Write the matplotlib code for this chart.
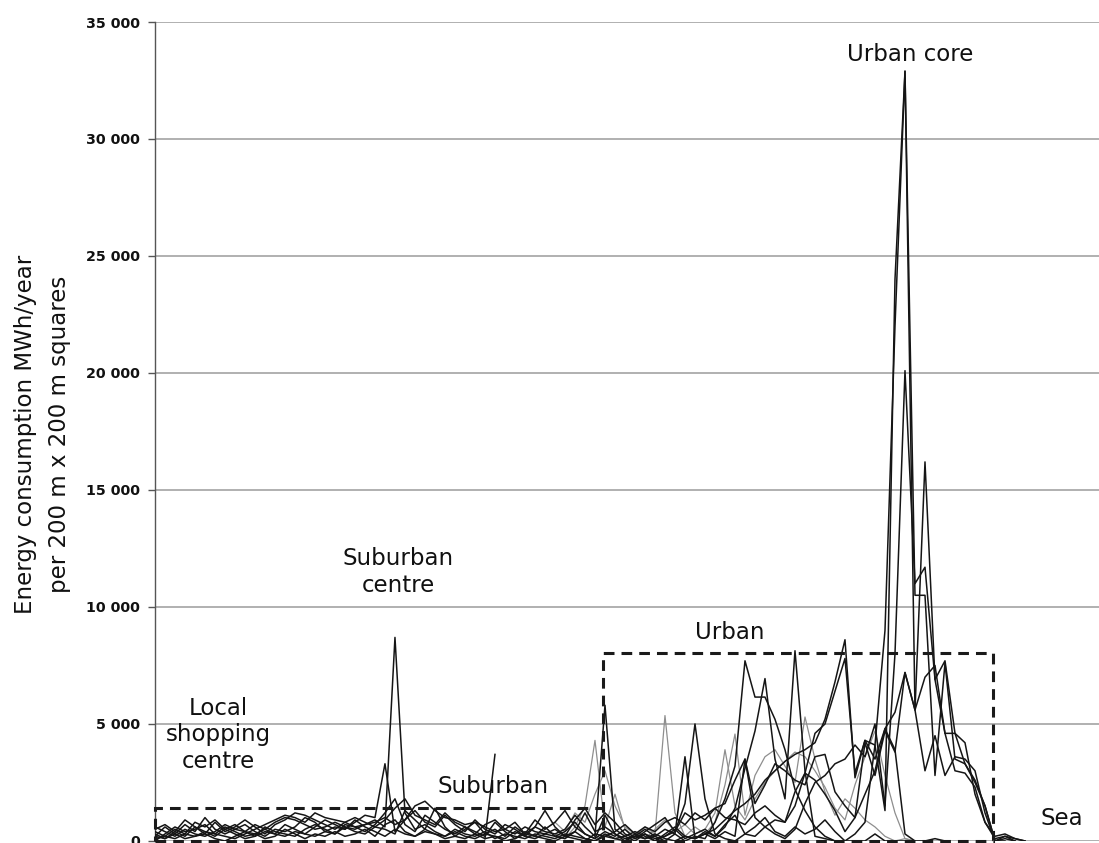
import numpy as np
import matplotlib
matplotlib.use('Agg')
import matplotlib.pyplot as plt
from matplotlib.patches import Rectangle
from matplotlib.ticker import FuncFormatter

NA = np.nan

# number of 200 m squares along the transect
n_squares = 90

# energy consumption per square (MWh/year), one list per transect line
s1 = [0, 300, 600, 400, 500, 700, 300, 600, 400, 200,
      300, 500, 800, 1000, 900, 700, 500, 600, 800, 600,
      500, 700, 900, 600, 8700, 1200, 500, 700, 400, 200,
      500, 300, 200, 400, 100, 300, 200, 100, 300, 200,
      100, 300, 200, 100, 0, 300, 100, 0, 200, 100,
      300, 100, 0, 200, 100, 300, 500, 900, 1300, 1600,
      2000, 2600, 3000, 3400, 3700, 3900, 4200, 5200, 6800, 8600,
      2700, 4300, 4100, 1300, 24000, 32900, 10500, 10500, 2800, 7600,
      3500, 3300, 2600, 1500, 0, 200, 100, 0]

s2 = [400, 200, 500, 300, 800, 600, 900, 500, 700, 400,
      200, 400, 300, 700, 500, 300, 600, 900, 700, 500,
      800, 1100, 1000, 3300, 400, 900, 1300, 800, 600, 1100,
      700, 400, 900, 500, 300, 700, 500, 200, 600, 400,
      300, 500, 1100, 600, 200, 5800, 500, 200, 400, 200,
      0, 300, 600, 200, 100, 400, 200, 700, 1100, 300,
      600, 1000, 400, 200, 600, 300, 500, 900, 400, 0,
      300, 800, 4100, 9000, 22000, 32900, 5600, 3000, 4500, 2800,
      3600, 3500, 3000, 1200, 0, 100, 0]

s3 = [200, 600, 300, 700, 400, 1000, 500, 300, 500, 700,
      400, 200, 500, 400, 600, 1000, 800, 400, 300, 700,
      600, 400, 700, 1200, 1800, 700, 400, 1100, 800, 500,
      300, 600, 400, 200, 800, 400, 100, 400, 200, 600,
      200, 100, 400, 1200, 400, 600, 300, 100, 200, 500,
      200, 0, 300, 3600, 100, 300, 100, 400, 200, 3500,
      1000, 600, 300, 100, 500, 1600, 2500, 2800, 3300, 3500,
      4100, 3600, 5000, 1500, 8000, 20100, 11000, 11700, 6900, 4600,
      4600, 3300, 2500, 1500, 0, 0]

s4 = [100, 200, 100, 300, 200, 400, 300, 200, 100, 300,
      500, 700, 900, 1100, 1000, 800, 1200, 1000, 900, 800,
      600, 700, 800, 1000, 700, 900, 1500, 1700, 1300, 1000,
      900, 700, 800, 600, 400, 500, 300, 600, 400, 300,
      500, 200, 100, 0, 300, 200, 400, 700, 300, 600,
      400, 800, 1000, 700, 1200, 900, 1400, 1000, 900, 700,
      1200, 1500, 1100, 800, 2100, 2900, 2600, 2000, 1300, 400,
      1000, 2000, 3000, 4800, 5500, 7200, 5600, 16200, 6900, 7700,
      4600, 4200, 2000, 800, 100, 200, 0]

s5 = [300, 100, 400, 200, 600, 400, 200, 500, 300, 100,
      200, 600, 400, 300, 200, 500, 700, 500, 300, 600,
      400, 300, 600, 500, 300, 1300, 900, 500, 1400, 600,
      200, 500, 800, 300, 500, 200, 600, 300, 900, 500,
      800, 1300, 600, 300, 100, 1100, 300, 0, 300, 100,
      200, 500, 300, 0, 200, 100, 800, 1800, 3200, 7700,
      6150, 6150, 5200, 3900, 2200, 1300, 600, 200, 0, 0]

s6 = [600, 400, 200, 500, 300, 200, 400, 700, 500, 400,
      700, 500, 300, 200, 400, 300, 200, 400, 600, 500,
      900, 600, 400, 200, 500, 300, 200, 400, 300, 200,
      400, 200, 100, 300, 200, 100, 400, 200, 100, 300,
      200, 400, 800, 300, 100, 400, 200, 500, 100, 300,
      100, 200, 500, 100, 300, 500, 200, 600, 1400, 3100,
      4700, 6940, 3500, 1800, 8130, 3000, 200, 100, 0, 0,
      0, 0, 300, 0, 0, 0]

s7 = [200, 100, 300, 100, 200, 300, 100, 0, 200, 400,
      300, 100, 200, 500, 300, 100, 300, 200, 400, 200,
      300, 500, 200, 700, 900, 400, 200, 500, 300, 100,
      200, 100, 300, 100, 200, 0, 100, 300, 200, 100,
      0, 200, 400, 100, 0, 200, 100, 200, 0, 300,
      0, 200, 400, 1600, 5000, 1800, 300, 100, 0, 300,
      200, 600, 900, 800, 1500, 2900, 4600, 5000, 6400, 7800,
      2900, 4300, 3500, 4800, 3900, 300, 0, 0, 100, 0]

s8 = [500, 700, 400, 900, 600, 300, 800, 400, 600, 900,
      600, 300, 700, 900, 1200, 1100, 900, 700, 500, 800,
      1000, 800, 600, 900, 1400, 1800, 1100, 900, 700, 1200,
      800, 600, 300, 700, 900, 500, 800, 300, 600, 1300,
      600, 200, 900, 1400, 700, 1200, 800, 300, 100, 400,
      700, 1000, 400, 1200, 900, 1100, 1400, 1600, 2600, 3500,
      1600, 2400, 3300, 3000, 2600, 2400, 3600, 3700, 2100, 1500,
      1000, 4200, 2800, 4700, 3800, 7200, 5600, 7000, 7500, 4600,
      3000, 2900, 2300, 800, 200, 300, 100, 0]

s9 = [NA] * 40 + [300, 100, 600, 1500, 4300, 600, 2000, 500, 200, 600,
                  300, 5360, 1200, 200, 600, 300, 800, 2400, 4570, 1100,
                  2800, 3600, 3900, 3200, 2500, 5300, 3500, 2100, 1100, 1800,
                  1400, 900, 600, 200, 0, 100, 0, 0]

s10 = [NA] * 38 + [200, 500,
                   800, 400, 1200, 800, 2000, 3000, 1500, 600, 300, 100,
                   500, 900, 400, 700, 300, 500, 1200, 3900, 1500, 900,
                   1800, 2500, 3000, 3400, 3800, 3600, 3000, 2300, 1400, 900,
                   2400, 3600, 4700, 2800, 1200, 100, 0]

s11 = [NA] * 33 + [100, 3700]

black_series = [s1, s2, s3, s4, s5, s6, s7, s8, s11]
grey_series = [s9, s10]

# dashed zones: (label, first square, last square, upper bound)
zones = [('Suburban', 0, 44.8, 1400),
         ('Urban', 44.8, 83.8, 8030)]

# text labels: (text, square, value, line spacing)
labels = [('Urban core', 75.5, 33630, 1.0),
          ('Suburban\ncentre', 24.3, 11500, 1.25),
          ('Urban', 57.5, 8930, 1.0),
          ('Local\nshopping\ncentre', 6.3, 4530, 1.2),
          ('Suburban', 33.8, 2310, 1.0),
          ('Sea', 90.7, 940, 1.0)]


def pad(values):
    values = list(values)
    return np.array(values + [NA] * (n_squares - len(values)), dtype=float)


fig = plt.figure(figsize=(10.99, 8.43), dpi=100)
ax = fig.add_axes([0.1410, 0.0024, 0.8590, 0.9715])

x = np.arange(n_squares)
for s in grey_series:
    ax.plot(x, pad(s), color='#8e8e8e', lw=0.9, zorder=2)
for s in black_series:
    ax.plot(x, pad(s), color='#151515', lw=1.1, zorder=3)

for name, x0, x1, top in zones:
    ax.add_patch(Rectangle((x0, 0), x1 - x0, top, fill=False, ec='#1a1a1a',
                           lw=2.2, ls=(0, (3.5, 2.3)), clip_on=False, zorder=5))

for txt, xv, yv, ls in labels:
    ax.text(xv, yv, txt, ha='center', va='center', fontsize=16.5,
            linespacing=ls, color='#111111', zorder=6)

ax.set_xlim(0, 94.4)
ax.set_ylim(0, 35000)
ax.set_xticks([])
ax.set_yticks(range(0, 35001, 5000))
ax.yaxis.set_major_formatter(FuncFormatter(lambda v, p: '{:,}'.format(int(v)).replace(',', ' ')))
for lab in ax.get_yticklabels():
    lab.set_fontweight('bold')
ax.tick_params(axis='y', length=5, width=1, color='#555555', pad=6,
               labelsize=10.3, labelcolor='#111111')

ax.yaxis.grid(True, color='#a3a3a3', lw=1.2)
ax.set_axisbelow(True)
for side in ['top', 'right', 'bottom']:
    ax.spines[side].set_visible(False)
ax.spines['left'].set_color('#555555')
ax.spines['left'].set_linewidth(1.0)

fig.text(0.039, 0.485, 'Energy consumption MWh/year\nper 200 m x 200 m squares',
         rotation=90, ha='center', va='center', fontsize=16.5,
         linespacing=1.6, multialignment='center', color='#111111')

fig.savefig('out.png', dpi=100)
